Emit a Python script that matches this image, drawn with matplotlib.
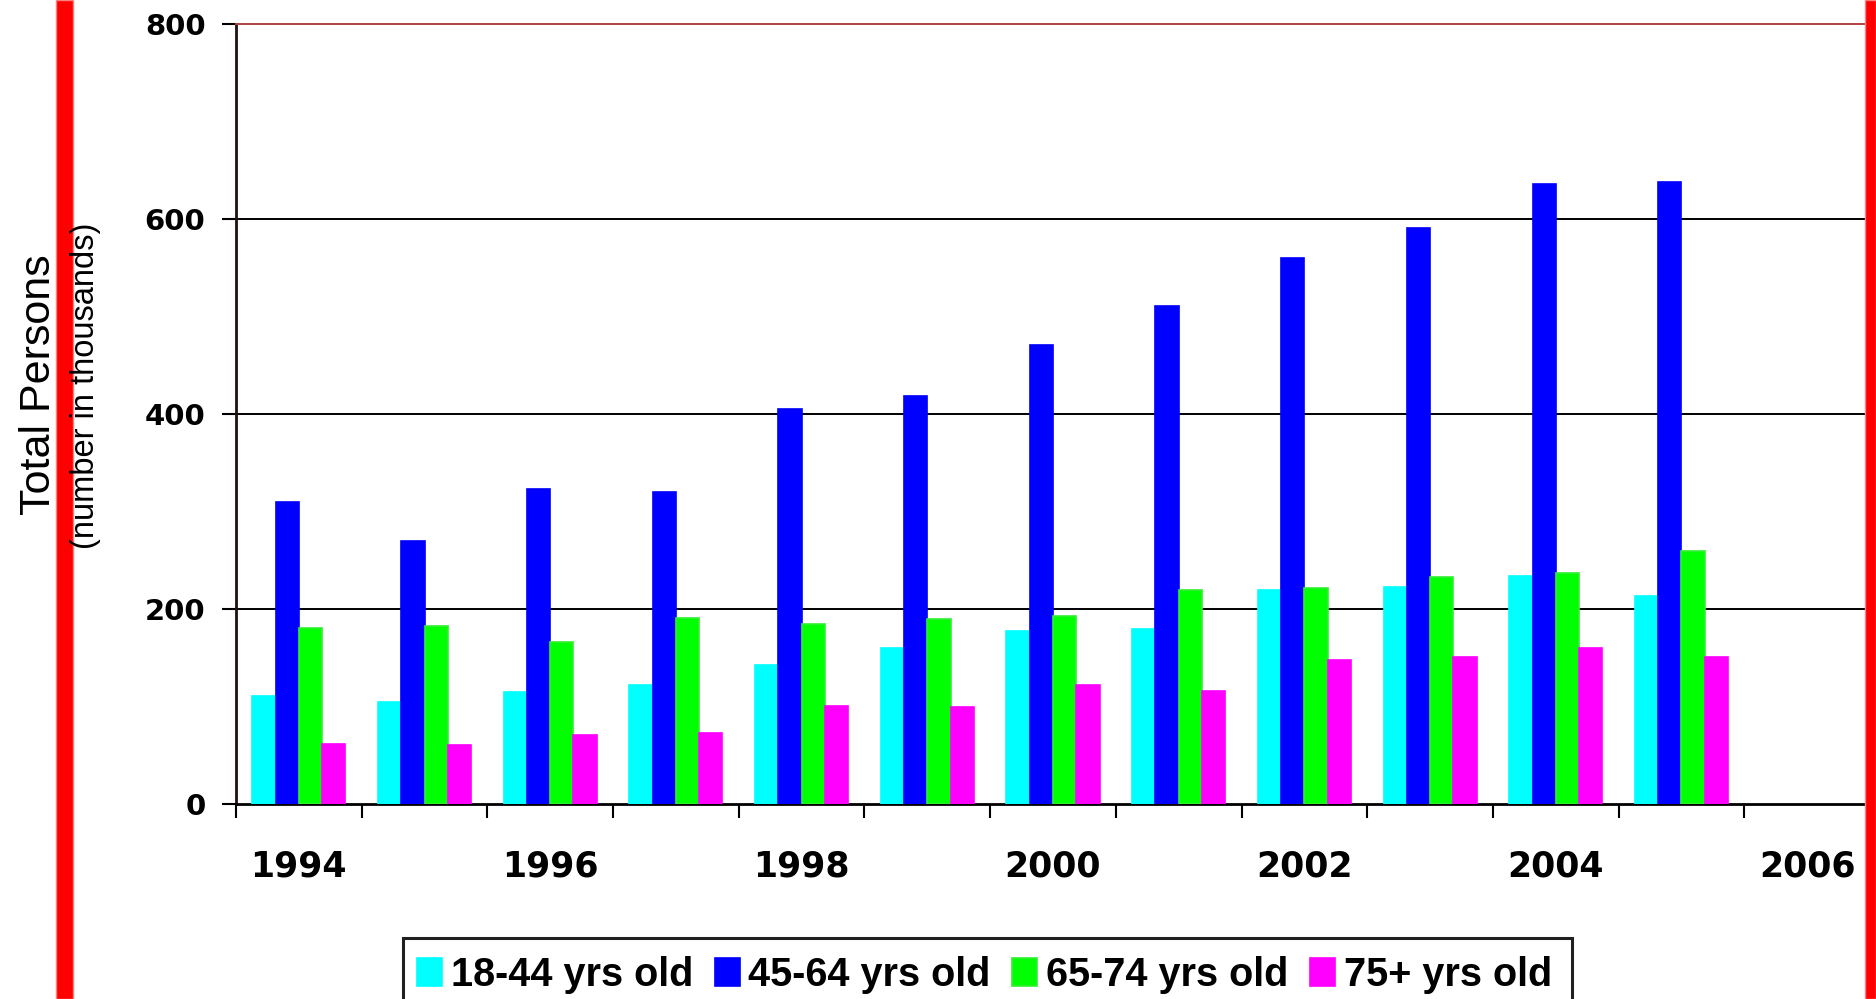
import matplotlib
matplotlib.use('Agg')
import matplotlib.pyplot as plt
from matplotlib.patches import Rectangle
import numpy as np

# categories (2006 slot is empty in the chart)
years = [str(y) for y in range(1994, 2007)]
tick_labels = [y if int(y) % 2 == 0 else '' for y in years]

# values in thousands
age_18_44 = [111, 105, 115, 122, 143, 160, 177, 179, 219, 223, 234, 213]
age_45_64 = [310, 270, 323, 320, 405, 418, 471, 511, 560, 591, 636, 638]
age_65_74 = [181, 183, 166, 191, 185, 190, 193, 219, 222, 233, 237, 259]
age_75_up = [62, 60, 71, 73, 100, 99, 122, 116, 148, 151, 160, 151]

series_names = ['18-44 yrs old', '45-64 yrs old', '65-74 yrs old', '75+ yrs old']
colors = ['#00ffff', '#0000ff', '#00ff00', '#ff00ff']
edges = ['#00ffff', '#0000ff', '#33ee33', '#ff00ff']

fig = plt.figure(figsize=(18.76, 9.99), dpi=100)
ax = fig.add_axes([0.1258, 0.1952, 0.8710, 0.7808])

bw = 0.185
x = np.arange(len(age_18_44))
for i, (vals, name) in enumerate(zip([age_18_44, age_45_64, age_65_74, age_75_up], series_names)):
    ax.bar(x + (i - 1.5) * bw, vals, width=bw, color=colors[i], edgecolor=edges[i],
           linewidth=1.2, label=name, zorder=3)

ax.set_xlim(-0.5, len(years) - 0.5)
ax.set_ylim(0, 800)
ax.set_yticks([0, 200, 400, 600, 800])
ax.set_xticks(np.arange(len(years)))
ax.set_xticklabels(tick_labels)
ax.set_xticks(np.arange(len(years) + 1) - 0.5, minor=True)

ax.tick_params(axis='x', which='major', length=0, pad=33, labelsize=25)
ax.tick_params(axis='x', which='minor', length=10, width=1.5, direction='out')
ax.tick_params(axis='y', which='major', length=10, width=1.5, direction='out',
               pad=12, labelsize=21)
for lab in ax.get_xticklabels() + ax.get_yticklabels():
    lab.set_fontweight('bold')

for v in [200, 400, 600]:
    ax.axhline(v, color='black', lw=1.4, zorder=1)

ax.spines['right'].set_visible(False)
ax.spines['top'].set_color('#b04040')
ax.spines['top'].set_linewidth(1.4)
ax.spines['left'].set_linewidth(2)
ax.spines['left'].set_color('#201010')
ax.spines['bottom'].set_linewidth(2)

# axis titles
fig.text(0.0208, 0.615, 'Total Persons', rotation=90, ha='center', va='center',
         fontsize=31, family='Liberation Sans')
fig.text(0.0458, 0.614, '(number in thousands)', rotation=90, ha='center', va='center',
         fontsize=23.5, family='Liberation Sans', zorder=5)

# red frame bars of the slide
fig.patches.append(Rectangle((56 / 1876, 0), 17 / 1876, 1, transform=fig.transFigure,
                             facecolor='#ff0000', edgecolor='#ff8080', lw=1, zorder=2))
fig.patches.append(Rectangle((1865 / 1876, 0), 11 / 1876, 1, transform=fig.transFigure,
                             facecolor='#ff0000', edgecolor='#ff8080', lw=1, zorder=10))

# legend box runs off the bottom of the slide
fig.patches.append(Rectangle((403 / 1876, -0.05), (1572 - 403) / 1876, 0.05 + 61 / 999,
                             transform=fig.transFigure, facecolor='white',
                             edgecolor='#202020', lw=2.2, zorder=1))
leg = fig.legend(loc='upper left', bbox_to_anchor=(405 / 1876, 1 - 944 / 999),
                 ncol=4, frameon=False, borderaxespad=0,
                 prop={'family': 'Liberation Sans', 'weight': 'bold', 'size': 28.5},
                 handlelength=0.63, handleheight=0.7, handletextpad=0.22,
                 columnspacing=0.55, borderpad=0.3)

fig.savefig('out.png', dpi=100)
